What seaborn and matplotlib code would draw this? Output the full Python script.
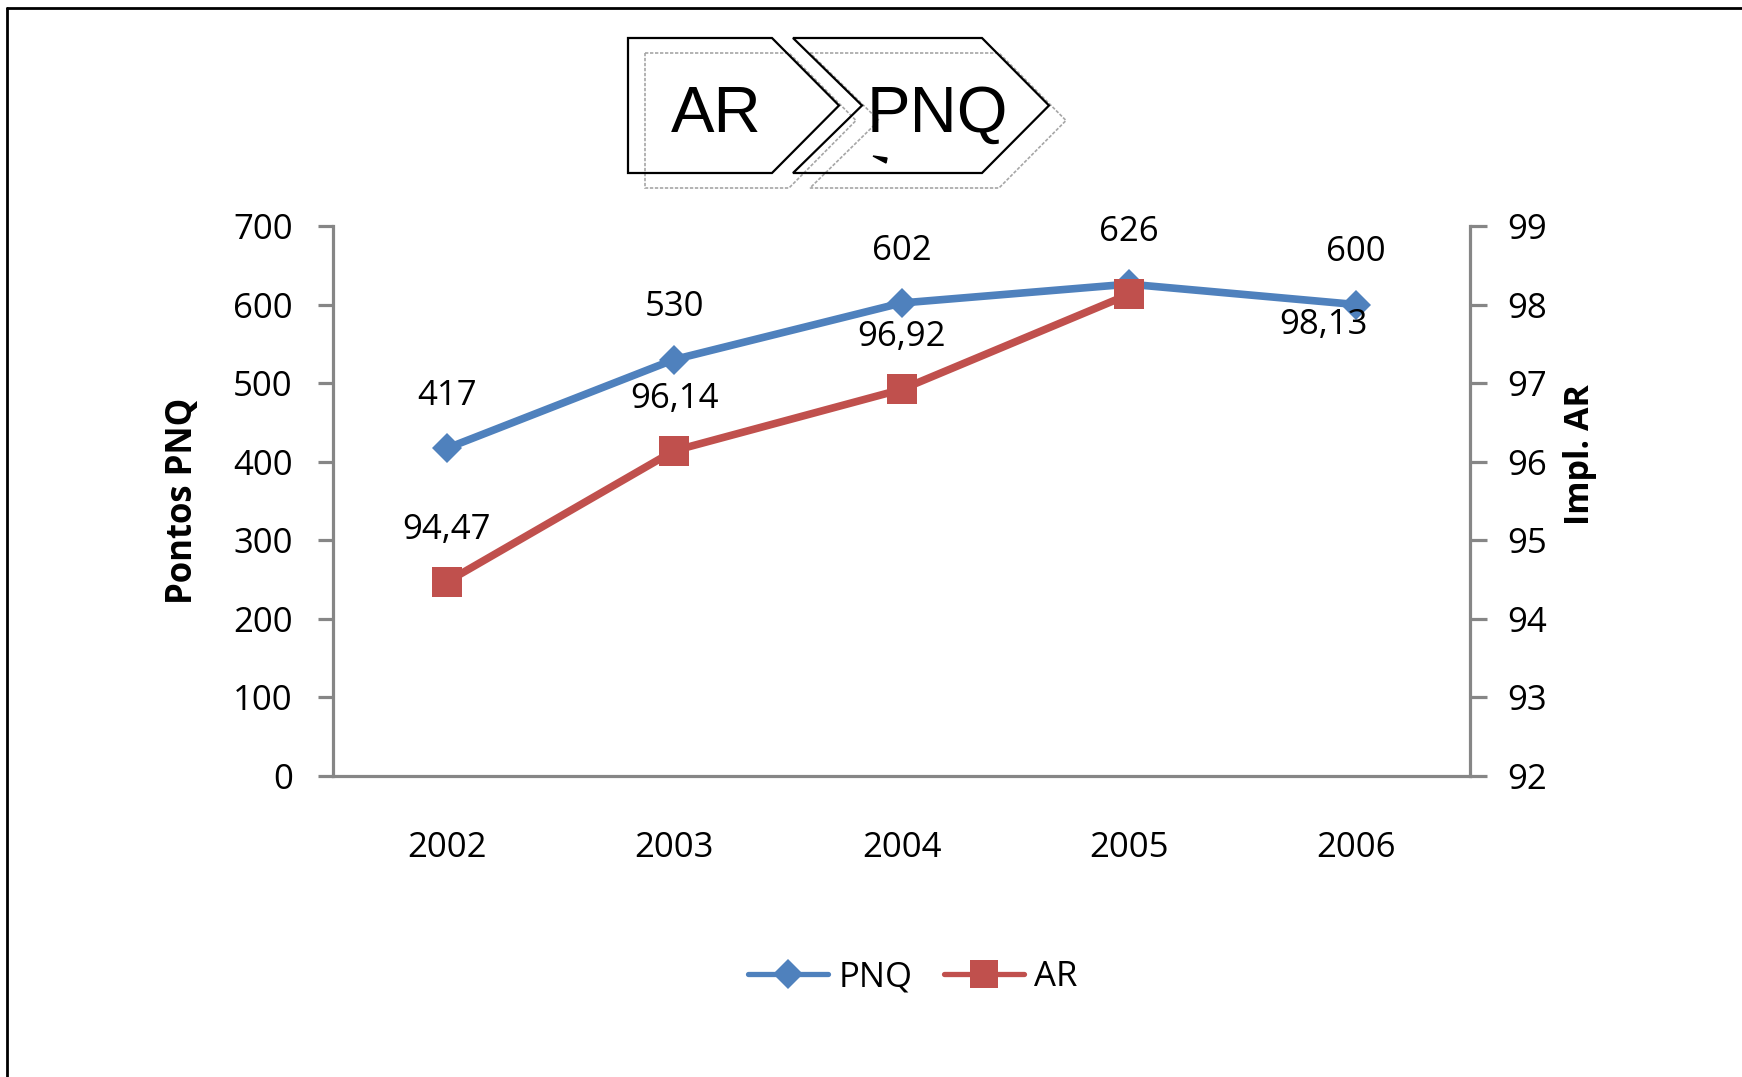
import numpy as np
import pandas as pd
import seaborn as sns
import matplotlib.pyplot as plt
from matplotlib.patches import Polygon
from matplotlib.lines import Line2D

# dados do grafico
anos = ['2002', '2003', '2004', '2005', '2006']
pontos_pnq = [417, 530, 602, 626, 600]
impl_ar = [94.47, 96.14, 96.92, 98.13, np.nan]
etapas = ['AR', 'PNQ']

W, H = 1742, 1077
azul = '#4F81BD'
vermelho = '#C0504D'
cinza = '#868686'

sns.set_theme(style='white')
plt.rcParams['font.family'] = ['Open Sans', 'DejaVu Sans']
plt.rcParams['text.color'] = 'black'
plt.rcParams['axes.labelcolor'] = 'black'

df = pd.DataFrame({'pos': range(len(anos)), 'ano': anos,
                   'PNQ': pontos_pnq, 'AR': impl_ar})


def fx(x):
    return x / W


def fy(y):
    return 1 - y / H


fig = plt.figure(figsize=(W / 100, H / 100), dpi=100)
ax = fig.add_axes([fx(333), fy(776), (1470 - 333) / W, (776 - 226) / H])
ax2 = ax.twinx()

sns.lineplot(data=df, x='pos', y='PNQ', ax=ax, color=azul, lw=5.5,
             marker='D', markersize=15, markeredgewidth=0, legend=False)
sns.lineplot(data=df.dropna(), x='pos', y='AR', ax=ax2, color=vermelho, lw=5.5,
             marker='s', markersize=21, markeredgewidth=0, legend=False)

ax.set_xlim(-0.5, len(anos) - 0.5)
ax.set_ylim(0, 700)
ax.set_yticks(range(0, 701, 100))
ax2.set_ylim(92, 99)
ax2.set_yticks(range(92, 100))
ax.set_xticks(df['pos'])
ax.set_xticklabels(anos)
ax.set_xlabel('')

for a in (ax, ax2):
    a.patch.set_visible(False)
    for s in a.spines.values():
        s.set_visible(False)
ax.spines['left'].set_visible(True)
ax.spines['bottom'].set_visible(True)
ax2.spines['right'].set_visible(True)
for s in (ax.spines['left'], ax.spines['bottom'], ax2.spines['right']):
    s.set_color(cinza)
    s.set_linewidth(2.3)

ax.tick_params(axis='y', left=True, direction='out', length=11, width=2.3,
               color=cinza, pad=18, labelsize=25, labelcolor='black')
ax.tick_params(axis='x', bottom=False, length=0, pad=39.5, labelsize=25,
               labelcolor='black')
ax2.tick_params(axis='y', right=True, direction='out', length=12, width=2.3,
                color=cinza, pad=15, labelsize=25, labelcolor='black')

ax.set_ylabel('Pontos PNQ', fontsize=25, fontweight='bold', va='center')
ax.yaxis.set_label_coords(-0.132, 0.501)
ax2.set_ylabel('Impl. AR', fontsize=24.5, fontweight='bold', va='center')
ax2.yaxis.set_label_coords(1.097, 0.584)

# rotulos de dados
for i, v in enumerate(pontos_pnq):
    ax.annotate(str(v), (i, v), xytext=(0, 37.5), textcoords='offset points',
                ha='center', va='center', fontsize=25)
deslocamento_ar = {3: (140, -22)}
for i, v in enumerate(impl_ar):
    if np.isnan(v):
        continue
    ax2.annotate(f'{v:.2f}'.replace('.', ','), (i, v),
                 xytext=deslocamento_ar.get(i, (0, 37.5)), textcoords='offset points',
                 ha='center', va='center', fontsize=25)

# legenda
handles = [Line2D([], [], color=azul, lw=3.8, marker='D', markersize=15, markeredgewidth=0),
           Line2D([], [], color=vermelho, lw=3.8, marker='s', markersize=20, markeredgewidth=0)]
fig.legend(handles, ['PNQ', 'AR'], loc='center', bbox_to_anchor=(fx(913), fy(977)),
           ncol=2, frameon=False, fontsize=25, handlelength=2.3,
           handletextpad=0.3, columnspacing=0.9)


# setas do processo (AR -> PNQ)
def seta(x0, x1, y0, y1, ponta, entalhe, **kw):
    ym = (y0 + y1) / 2
    pts = [(x0, y0), (x1, y0), (x1 + ponta, ym), (x1, y1), (x0, y1)]
    if entalhe:
        pts.append((x0 + ponta + 2, ym))
    pts = [(fx(x), fy(y)) for x, y in pts]
    fig.add_artist(Polygon(pts, closed=True, fill=False,
                           transform=fig.transFigure, **kw))


formas = [(628, 772, False), (793, 982, True)]
for (x0, x1, ent) in formas:
    seta(x0 + 17, x1 + 17, 38 + 15, 173 + 15, 67, ent, edgecolor='#a6a6a6',
         lw=1.2, linestyle=(0, (2, 1)))
for (x0, x1, ent) in formas:
    seta(x0, x1, 38, 173, 67, ent, edgecolor='black', lw=1.6)

for nome, xc in zip(etapas, [716, 937]):
    fig.text(fx(xc), fy(132), nome, ha='center', va='baseline', fontsize=47,
             color='black', family=['Liberation Sans', 'DejaVu Sans'])
fig.add_artist(Polygon([(fx(873), fy(156)), (fx(887), fy(158)), (fx(886), fy(163))],
                       closed=True, color='black', transform=fig.transFigure))

# moldura
fig.add_artist(Line2D([fx(7), fx(7)], [0, fy(8)], transform=fig.transFigure,
                      color='black', lw=2))
fig.add_artist(Line2D([fx(7), 1], [fy(8), fy(8)], transform=fig.transFigure,
                      color='black', lw=2))

fig.savefig('out.png', dpi=100)
